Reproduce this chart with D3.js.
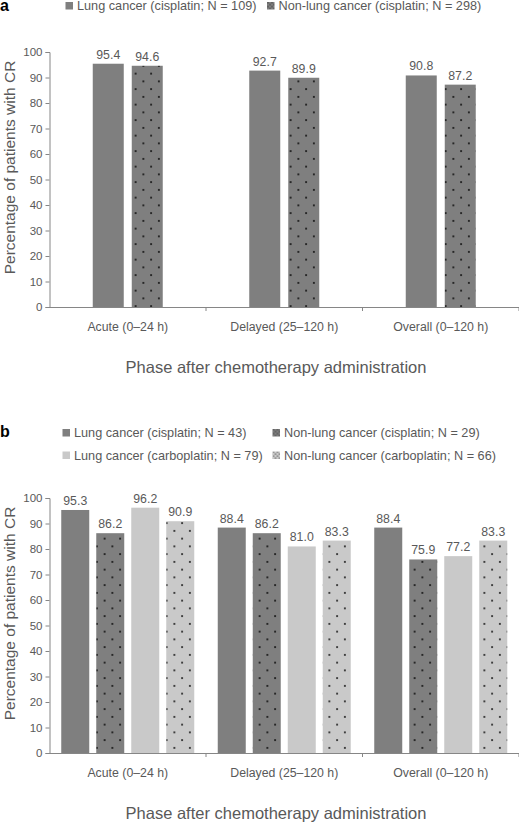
<!DOCTYPE html>
<html>
<head>
<meta charset="utf-8">
<script src="https://cdn.jsdelivr.net/npm/d3@7"></script>
<style>
  html, body { margin: 0; padding: 0; background: #fff; }
  svg { display: block; font-family: "Liberation Sans", Arial, sans-serif; }
</style>
</head>
<body>
<svg id="chart" width="519" height="823"></svg>
<script>
// ---------- data ----------
const categories = ["Acute (0–24 h)", "Delayed (25–120 h)", "Overall (0–120 h)"];
const yTicks = [0, 10, 20, 30, 40, 50, 60, 70, 80, 90, 100];
const xTitle = "Phase after chemotherapy administration";
const yTitle = "Percentage of patients with CR";

const seriesA = ["Lung cancer (cisplatin; N = 109)", "Non-lung cancer (cisplatin; N = 298)"];
const lungCisplatinA = [95.4, 92.7, 90.8];
const nonLungCisplatinA = [94.6, 89.9, 87.2];

const seriesB = [
  "Lung cancer (cisplatin; N = 43)",
  "Non-lung cancer (cisplatin; N = 29)",
  "Lung cancer (carboplatin; N = 79)",
  "Non-lung cancer (carboplatin; N = 66)"
];
const lungCisplatinB = [95.3, 88.4, 88.4];
const nonLungCisplatinB = [86.2, 86.2, 75.9];
const lungCarboplatinB = [96.2, 81.0, 77.2];
const nonLungCarboplatinB = [90.9, 83.3, 83.3];

// ---------- styles ----------
const DARK = "#7f7f7f", LIGHT = "#c9c9c9", TEXT = "#595959", AXIS = "#868686";
const svg = d3.select("#chart");
const defs = svg.append("defs");

function dotPattern(id, bg, size, r) {
  const p = defs.append("pattern").attr("id", id)
    .attr("patternUnits", "userSpaceOnUse").attr("width", size).attr("height", size);
  p.append("rect").attr("width", size).attr("height", size).attr("fill", bg);
  p.append("circle").attr("cx", size * 0.25).attr("cy", size * 0.25).attr("r", r).attr("fill", "#000");
  p.append("circle").attr("cx", size * 0.75).attr("cy", size * 0.75).attr("r", r).attr("fill", "#000");
}
dotPattern("dotsDark", DARK, 15.5, 0.9);
dotPattern("dotsLight", LIGHT, 15.5, 0.9);
dotPattern("legDotsDark", DARK, 4, 0.55);
dotPattern("legDotsLight", LIGHT, 4, 0.55);

const styleA = [
  { fill: DARK, leg: DARK },
  { fill: "url(#dotsDark)", leg: "url(#legDotsDark)" }
];
const styleB = [
  { fill: DARK, leg: DARK },
  { fill: "url(#dotsDark)", leg: "url(#legDotsDark)" },
  { fill: LIGHT, leg: LIGHT },
  { fill: "url(#dotsLight)", leg: "url(#legDotsLight)" }
];

function drawPanel(opt) {
  const { top, bottom, left, right, series, values, styles, barW, gap, label, labelY, legend } = opt;
  const g = svg.append("g");

  const y = d3.scaleLinear().domain([0, 100]).range([bottom, top]);
  const x0 = d3.scaleBand().domain(categories).range([left, right]);
  const n = series.length;
  const step = barW + gap;
  const groupW = n * barW + (n - 1) * gap;
  const x1 = d3.scaleBand().domain(d3.range(n)).range([-groupW / 2, groupW / 2])
    .paddingInner(gap / step);

  // bars
  series.forEach((s, si) => {
    const gs = g.append("g");
    gs.selectAll("rect").data(values[si]).join("rect")
      .attr("x", (d, ci) => x0(categories[ci]) + x0.bandwidth() / 2 + x1(si))
      .attr("y", d => y(d))
      .attr("width", x1.bandwidth())
      .attr("height", d => y(0) - y(d))
      .attr("fill", styles[si].fill);
    gs.selectAll("text").data(values[si]).join("text")
      .attr("x", (d, ci) => x0(categories[ci]) + x0.bandwidth() / 2 + x1(si) + x1.bandwidth() / 2)
      .attr("y", d => y(d) - 5)
      .attr("text-anchor", "middle")
      .attr("font-size", 12.3)
      .attr("fill", TEXT)
      .text(d => d3.format(".1f")(d));
  });

  // y axis
  const ya = g.append("g").attr("transform", `translate(${left},0)`)
    .call(d3.axisLeft(y).tickValues(yTicks).tickSize(4).tickPadding(3).tickFormat(d3.format("d")));
  ya.select(".domain").attr("stroke", AXIS);
  ya.selectAll(".tick line").attr("stroke", AXIS);
  ya.selectAll(".tick text").attr("fill", TEXT).attr("font-size", 11.5)
    .attr("font-family", "Liberation Sans, Arial, sans-serif");

  // x axis: line with category boundary ticks
  const xa = g.append("g").attr("transform", `translate(0,${bottom})`)
    .call(d3.axisBottom(x0).tickSize(0).tickPadding(15));
  xa.select(".domain").attr("stroke", AXIS);
  xa.selectAll(".tick text").attr("fill", TEXT).attr("font-size", 12.3)
    .attr("font-family", "Liberation Sans, Arial, sans-serif");
  const bounds = categories.map(c => x0(c) + x0.bandwidth());
  xa.selectAll(".bound").data(bounds).join("line").attr("class", "bound")
    .attr("x1", d => d).attr("x2", d => d).attr("y1", 0).attr("y2", 4)
    .attr("stroke", AXIS);

  // titles
  g.append("text").attr("x", 276).attr("y", bottom + 66)
    .attr("text-anchor", "middle").attr("font-size", 16.5).attr("fill", TEXT).text(xTitle);
  g.append("text")
    .attr("transform", `translate(15,${(top + bottom) / 2 - 12}) rotate(-90)`)
    .attr("text-anchor", "middle").attr("font-size", 15.5).attr("fill", TEXT).text(yTitle);

  // panel label
  g.append("text").attr("x", 0).attr("y", labelY).attr("font-size", 16)
    .attr("font-weight", "bold").attr("fill", "#000").text(label);

  // legend
  series.forEach((s, si) => {
    const pos = legend[si];
    const lg = g.append("g").attr("transform", `translate(${pos[0]},${pos[1]})`);
    lg.append("rect").attr("x", 0).attr("y", -3.5).attr("width", 7.5).attr("height", 7.5)
      .attr("fill", styles[si].leg);
    lg.append("text").attr("x", 11.5).attr("y", 4.6).attr("font-size", 12.7)
      .attr("fill", TEXT).text(s);
  });
}

drawPanel({
  top: 52, bottom: 307, left: 49.5, right: 519,
  series: seriesA, values: [lungCisplatinA, nonLungCisplatinA], styles: styleA,
  barW: 31, gap: 8, label: "a", labelY: 11,
  legend: [[65.5, 5.5], [267, 5.5]]
});

drawPanel({
  top: 498, bottom: 753, left: 49.5, right: 519,
  series: seriesB,
  values: [lungCisplatinB, nonLungCisplatinB, lungCarboplatinB, nonLungCarboplatinB],
  styles: styleB,
  barW: 28, gap: 7, label: "b", labelY: 437,
  legend: [[62.5, 432.5], [272.5, 432.5], [62.5, 455], [272.5, 455]]
});
</script>
</body>
</html>
